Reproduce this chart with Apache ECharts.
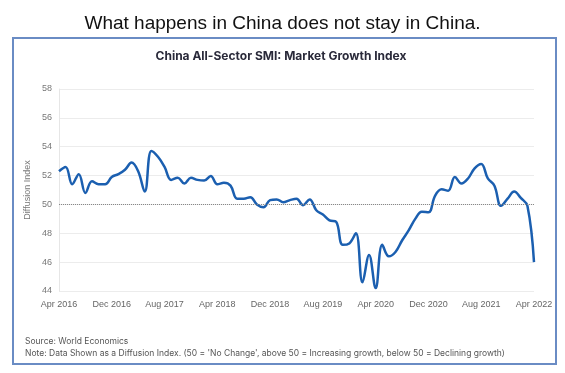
<!DOCTYPE html>
<html><head><meta charset="utf-8">
<script src="https://cdn.jsdelivr.net/npm/echarts@6/dist/echarts.min.js"></script>
<style>html,body{margin:0;padding:0;background:#fff}#c{width:565px;height:373px}</style>
</head><body><div id="c"></div>
<script>
const months = [
 "Apr 2016","May 2016","Jun 2016","Jul 2016","Aug 2016","Sep 2016","Oct 2016","Nov 2016","Dec 2016",
 "Jan 2017","Feb 2017","Mar 2017","Apr 2017","May 2017","Jun 2017","Jul 2017","Aug 2017","Sep 2017","Oct 2017","Nov 2017","Dec 2017",
 "Jan 2018","Feb 2018","Mar 2018","Apr 2018","May 2018","Jun 2018","Jul 2018","Aug 2018","Sep 2018","Oct 2018","Nov 2018","Dec 2018",
 "Jan 2019","Feb 2019","Mar 2019","Apr 2019","May 2019","Jun 2019","Jul 2019","Aug 2019","Sep 2019","Oct 2019","Nov 2019","Dec 2019",
 "Jan 2020","Feb 2020","Mar 2020","Apr 2020","May 2020","Jun 2020","Jul 2020","Aug 2020","Sep 2020","Oct 2020","Nov 2020","Dec 2020",
 "Jan 2021","Feb 2021","Mar 2021","Apr 2021","May 2021","Jun 2021","Jul 2021","Aug 2021","Sep 2021","Oct 2021","Nov 2021","Dec 2021",
 "Jan 2022","Feb 2022","Mar 2022","Apr 2022"
];
const smi = [
 52.3,52.6,51.4,52.1,50.8,51.6,51.4,51.4,51.9,52.1,52.4,52.9,52.3,50.9,53.7,53.3,52.6,51.7,
 51.85,51.45,51.85,51.7,51.65,51.97,51.4,51.5,51.3,50.4,50.4,50.5,50.0,49.8,50.3,50.35,50.15,
 50.3,50.4,49.95,50.35,49.6,49.3,48.9,48.8,47.2,47.3,48.0,44.6,46.5,44.2,47.2,46.4,46.7,
 47.5,48.2,49.0,49.5,49.45,50.6,51.05,50.95,51.9,51.45,51.8,52.5,52.8,51.8,51.3,49.9,50.4,
 50.9,50.45,49.9,46.0
];
const yTicks = {min:44, max:58, interval:2};
const chart = echarts.init(document.getElementById('c'), null, {renderer:'canvas'});
chart.setOption({
  animation:false,
  title:[
    {text:'What happens in China does not stay in China.', left:'center', top:9,
     textStyle:{fontFamily:'Liberation Sans', fontSize:19, fontWeight:'normal', color:'#111'}},
    {text:'China All-Sector SMI: Market Growth Index', left:276, textAlign:'center', top:45,
     textStyle:{fontFamily:'Inter', fontSize:12, fontWeight:'bold', color:'#2a2a3a'}}
  ],
  graphic:[
    {type:'rect', shape:{x:13,y:38,width:543,height:326}, style:{fill:'none', stroke:'#6a8cc4', lineWidth:2}},
    {type:'text', left:25, top:337, style:{text:'Source: World Economics', font:'8.5px Inter', fill:'#555'}},
    {type:'text', left:25, top:349, style:{text:"Note: Data Shown as a Diffusion Index. (50 = 'No Change', above 50 = Increasing growth, below 50 = Declining growth)", font:'8.5px Inter', fill:'#555'}}
  ],
  grid:{left:59, right:31, top:89, bottom:82},
  xAxis:{type:'category', data:months, boundaryGap:false,
    axisLine:{show:false}, axisTick:{show:false},
    axisLabel:{interval:7, color:'#666', fontSize:9, fontFamily:'Liberation Sans', margin:9},
    splitLine:{show:false}},
  yAxis:{type:'value', min:yTicks.min, max:yTicks.max, interval:yTicks.interval,
    name:'Diffusion Index', nameLocation:'middle', nameGap:27, nameMoveOverlap:false,
    nameTextStyle:{color:'#777', fontSize:9, fontFamily:'Liberation Sans'},
    axisLine:{show:true, lineStyle:{color:'#e6e6e6'}}, axisTick:{show:false},
    axisLabel:{color:'#777', fontSize:9, fontFamily:'Liberation Sans', margin:7},
    splitLine:{lineStyle:{color:'#ececec'}}},
  series:[{type:'line', data:smi, smooth:0.4, symbol:'none',
    lineStyle:{color:'#1b5fb0', width:2.5},
    markLine:{silent:true, symbol:'none', label:{show:false},
      lineStyle:{color:'#888', type:'dotted', width:1},
      data:[{yAxis:50}]}}]
});
</script></body></html>
